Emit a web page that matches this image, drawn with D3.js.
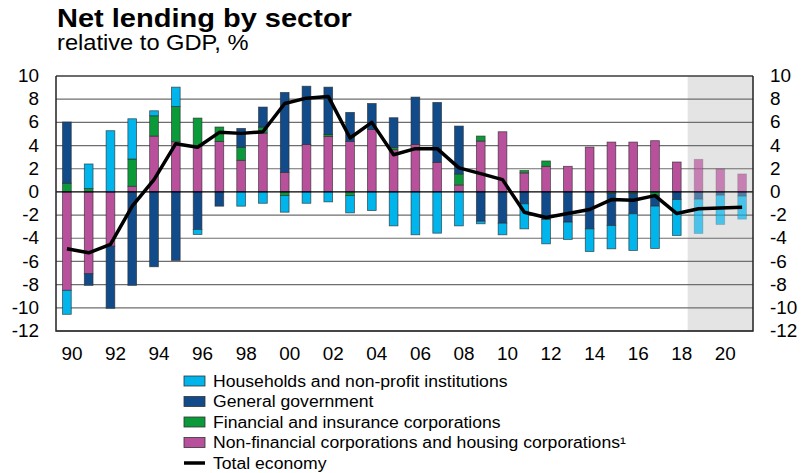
<!DOCTYPE html>
<html>
<head>
<meta charset="utf-8">
<script src="https://cdn.jsdelivr.net/npm/d3@7"></script>
<style>
  body { margin: 0; background: #fff; }
  svg { display: block; font-family: "Liberation Sans", Arial, sans-serif; }
</style>
</head>
<body>
<svg id="chart" width="802" height="473"></svg>
<script>
// Net lending by sector, % of GDP (2019–2021 forecast)
const years = d3.range(1990, 2022);
const nonFinancial = [-8.49, -7.06, -4.68, 0.49, 4.82, 4.33, 3.95, 4.36, 2.73, 5.08,
  1.69, 4.10, 4.79, 4.36, 5.39, 3.64, 4.10, 2.55, 0.60, 4.39,
  5.19, 1.64, 2.21, 2.21, 3.87, 4.30, 4.30, 4.42, 2.58, 2.81, 1.98, 1.55];
const financial = [0.75, 0.29, 0.00, 2.35, 1.75, 3.04, 2.42, 1.24, 1.12, 0.52,
  -0.32, 0.00, 0.17, -0.32, 0.00, 0.20, 0.00, 0.00, 0.95, 0.43,
  0.00, 0.20, 0.46, 0.00, 0.00, -0.14, -0.14, -0.29, 0.00, 0.00, 0.00, 0.00];
const government = [5.28, -1.00, -5.36, -8.06, -6.46, -5.91, -3.24, -1.23, 1.63, 1.72,
  6.89, 5.02, 4.08, 2.50, 2.24, 2.56, 4.08, 5.17, 4.13, -2.53,
  -2.70, -1.03, -2.38, -2.61, -3.19, -2.76, -1.75, -0.94, -0.66, -0.63, -0.29, -0.37];
const households = [-2.07, 2.12, 5.28, 3.47, 0.43, 1.67, -0.43, 0.00, -1.23, -0.98,
  -1.43, -0.98, -0.86, -1.49, -1.61, -2.93, -3.70, -3.56, -2.93, -0.22,
  -1.00, -2.16, -2.10, -1.49, -1.95, -2.01, -3.16, -3.65, -3.10, -2.96, -2.52, -1.98];
const totalEconomy = [-4.90, -5.25, -4.53, -1.23, 1.06, 4.16, 3.85, 5.14, 5.05, 5.19,
  7.63, 8.09, 8.24, 4.65, 6.00, 3.21, 3.73, 3.73, 2.07, 1.58,
  1.06, -1.75, -2.21, -1.87, -1.52, -0.66, -0.72, -0.32, -1.87, -1.46, -1.38, -1.32];
const yTicks = d3.range(-12, 11, 2);
const firstForecastYear = 2019;

const series = [
  { key: "nonFinancial", label: "Non-financial corporations and housing corporations¹", color: "#b8509c", values: nonFinancial },
  { key: "financial", label: "Financial and insurance corporations", color: "#0b9a39", values: financial },
  { key: "government", label: "General government", color: "#124b8a", values: government },
  { key: "households", label: "Households and non-profit institutions", color: "#00b4ec", values: households }
];

const rows = years.map((y, i) => {
  const r = { year: y };
  series.forEach(s => r[s.key] = s.values[i]);
  return r;
});

const svg = d3.select("#chart");
const m = { left: 56, right: 753, top: 76, bottom: 331 };

// widen glyphs slightly along x while keeping their height
function stretch(sel, factor) {
  sel.each(function () {
    const w = this.getComputedTextLength();
    d3.select(this).attr("textLength", w * factor).attr("lengthAdjust", "spacingAndGlyphs");
  });
}

const x = d3.scaleBand().domain(years).range([m.left, m.right]).paddingInner(0.6).paddingOuter(0.3);
const y = d3.scaleLinear().domain([-12, 10]).range([m.bottom, m.top]);

// forecast shading
const shadeX = x(firstForecastYear) - x.step() * x.paddingInner() / 2;
svg.append("rect")
  .attr("x", shadeX).attr("y", m.top)
  .attr("width", m.right - shadeX).attr("height", m.bottom - m.top)
  .attr("fill", "#e4e4e4");

// gridlines
svg.append("g").selectAll("line").data(yTicks.filter(t => t !== 0)).join("line")
  .attr("x1", m.left).attr("x2", m.right)
  .attr("y1", d => y(d)).attr("y2", d => y(d))
  .attr("stroke", "#6e6e6e").attr("stroke-width", 1.2);

// stacked bars
const stack = d3.stack().keys(series.map(s => s.key)).offset(d3.stackOffsetDiverging);
const stacked = stack(rows);

svg.append("g").selectAll("g").data(stacked).join("g")
  .attr("fill", (d, i) => series[i].color)
  .selectAll("rect").data(d => d.filter(p => p[1] !== p[0])).join("rect")
  .attr("x", d => x(d.data.year))
  .attr("width", x.bandwidth())
  .attr("y", d => y(Math.max(d[0], d[1])))
  .attr("height", d => Math.abs(y(d[0]) - y(d[1])))
  .attr("opacity", d => d.data.year >= firstForecastYear ? 0.68 : 1)
  .attr("stroke", "#2b2b2b")
  .attr("stroke-opacity", d => d.data.year >= firstForecastYear ? 0.35 : 0.75)
  .attr("stroke-width", 0.8);

// zero line
svg.append("line")
  .attr("x1", m.left).attr("x2", m.right)
  .attr("y1", y(0)).attr("y2", y(0))
  .attr("stroke", "#000").attr("stroke-width", 1.2);

// total economy line
svg.append("path")
  .datum(totalEconomy)
  .attr("fill", "none")
  .attr("stroke", "#000")
  .attr("stroke-width", 3.5)
  .attr("stroke-linejoin", "round")
  .attr("d", d3.line().x((d, i) => x(years[i]) + x.bandwidth() / 2).y(d => y(d)));

// frame
svg.append("path")
  .attr("d", `M${m.left},${m.top}V${m.bottom}H${m.right}V${m.top}`)
  .attr("fill", "none").attr("stroke", "#222").attr("stroke-width", 1.5);
svg.append("line")
  .attr("x1", m.left).attr("x2", m.right).attr("y1", m.top).attr("y2", m.top)
  .attr("stroke", "#222").attr("stroke-width", 1.2);

// axes
const fmt = d => String(d);
const leftAxis = svg.append("g").attr("transform", `translate(${m.left},0)`)
  .call(d3.axisLeft(y).tickValues(yTicks).tickSize(0).tickPadding(17).tickFormat(fmt));
const rightAxis = svg.append("g").attr("transform", `translate(${m.right},0)`)
  .call(d3.axisRight(y).tickValues(yTicks).tickSize(0).tickPadding(17).tickFormat(fmt));
const bottomAxis = svg.append("g").attr("transform", `translate(5,${m.bottom})`)
  .call(d3.axisBottom(x).tickValues(years.filter(yr => yr % 2 === 0)).tickSize(0).tickPadding(17)
    .tickFormat(d => String(d).slice(2)));
[leftAxis, rightAxis, bottomAxis].forEach(a => {
  a.select(".domain").remove();
  a.selectAll("text").attr("font-size", 17.5).attr("fill", "#000")
    .attr("font-family", "'Liberation Sans', Arial, sans-serif")
    .call(stretch, 1.08);
});

// titles
svg.append("text").attr("x", 57).attr("y", 27)
  .attr("font-size", 25).attr("font-weight", "bold").text("Net lending by sector")
  .call(stretch, 1.16);
svg.append("text").attr("x", 57).attr("y", 50)
  .attr("font-size", 21.5).text("relative to GDP, %")
  .call(stretch, 1.1);

// legend
const legendItems = [
  ...series.slice().reverse().map(s => ({ label: s.label, color: s.color, type: "box" })),
  { label: "Total economy", color: "#000", type: "line" }
];
const lg = svg.append("g").attr("transform", "translate(184,381)");
legendItems.forEach((d, i) => {
  const g = lg.append("g").attr("transform", `translate(0,${i * 20.5})`);
  if (d.type === "box") {
    g.append("rect").attr("x", 0).attr("y", -5).attr("width", 21).attr("height", 10)
      .attr("fill", d.color).attr("stroke", "#333").attr("stroke-width", 0.8);
  } else {
    g.append("line").attr("x1", 0).attr("x2", 21).attr("y1", 0).attr("y2", 0)
      .attr("stroke", "#000").attr("stroke-width", 3.5);
  }
  g.append("text").attr("x", 29).attr("y", 0).attr("dy", "0.36em")
    .attr("font-size", 16).text(d.label)
    .call(stretch, 1.1);
});
</script>
</body>
</html>
